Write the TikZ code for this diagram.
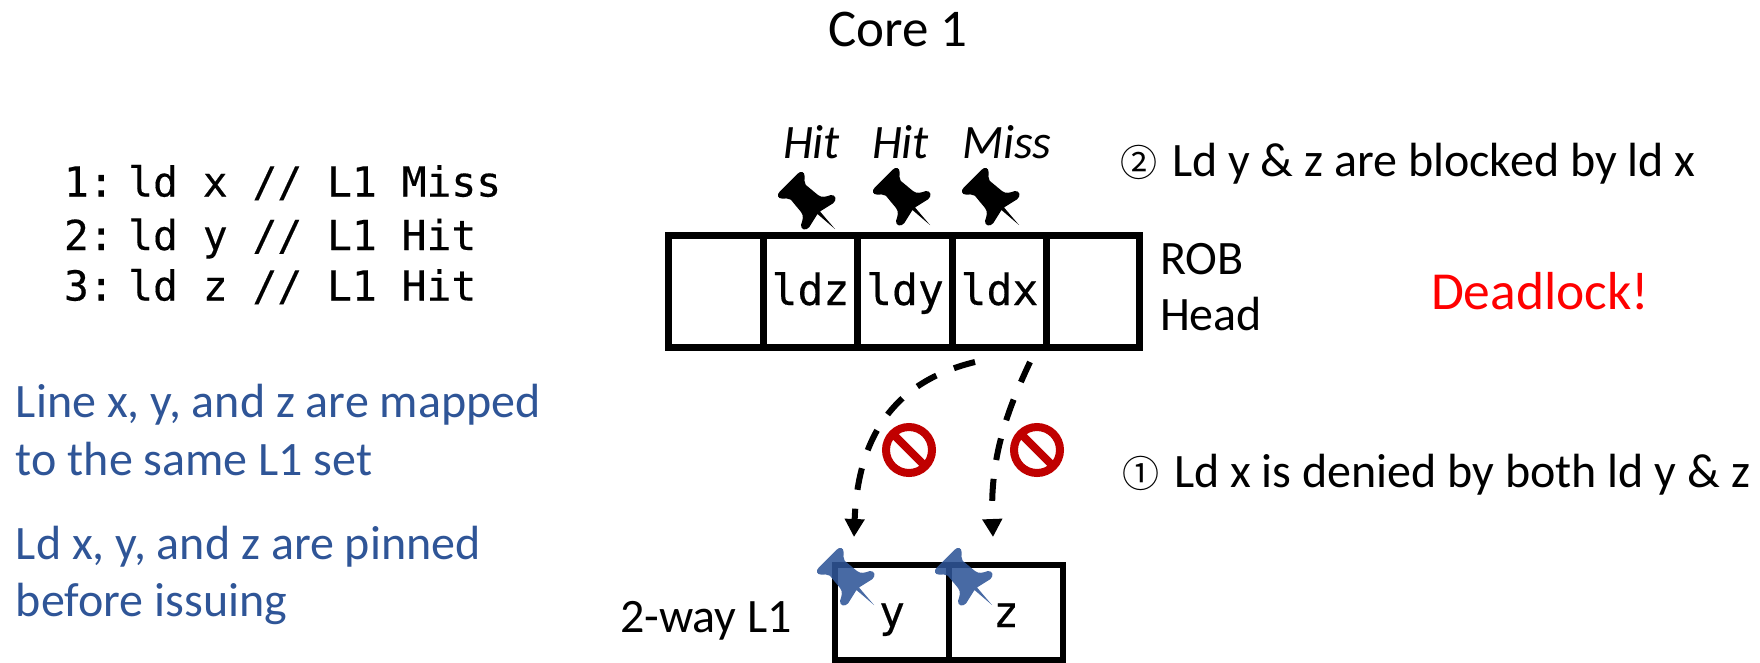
\documentclass[tikz,border=0pt]{standalone}
\usepackage{fontspec}
\usetikzlibrary{arrows.meta}
\setmainfont{Carlito}
\newfontfamily\codefont[FakeBold=0.35]{DejaVu Sans Mono}
\newfontfamily\circfont{Noto Sans CJK JP}
\definecolor{bluetext}{HTML}{2F5597}
\definecolor{stopred}{HTML}{C00000}
\tikzset{
  x=1pt,y=-1pt,
  txt/.style={anchor=base west,inner sep=0pt,outer sep=0pt,font=\fontsize{48}{56}\selectfont},
  code/.style={anchor=base west,inner sep=0pt,outer sep=0pt,font=\codefont\fontsize{41.3}{48}\selectfont},
  circ/.style={anchor=base west,inner sep=0pt,outer sep=0pt,font=\circfont\fontsize{37}{42}\selectfont},
  blue text/.style={txt,text=bluetext},
  hit/.style={txt,font=\fontsize{48}{56}\selectfont\itshape},
  cell/.style={draw,line width=7pt,minimum width=94.5pt,minimum height=112pt,inner sep=0pt,outer sep=0pt,
     text height=28pt,text depth=0pt,font=\codefont\fontsize{43}{48}\selectfont},
  cache/.style={draw,line width=6.5pt,minimum width=114pt,minimum height=95pt,inner sep=0pt,outer sep=0pt,
     text height=29pt,text depth=0pt,font=\codefont\fontsize{43}{48}\selectfont},
  deny/.style={circle,draw=stopred,line width=8pt,minimum size=46pt,inner sep=0pt,outer sep=0pt},
  denybar/.style={draw=stopred,line width=8pt},
  link/.style={line width=6pt,dash pattern=on 22pt off 19pt,-{Triangle[length=18pt,width=19pt]}},
  mypin/.pic={
    \path[pic actions] (0,0) -- (1.8,-23) -- (17,-19.5)
      .. controls (22,-19) and (25,-24) .. (21,-27)
      .. controls (17,-29) and (12.5,-31) .. (12,-36) -- (10.5,-52)
      .. controls (11,-55) and (14,-57) .. (16,-59)
      .. controls (19,-62) and (17,-65.5) .. (13,-65.5) -- (-13,-65.5)
      .. controls (-17,-65.5) and (-19,-62) .. (-16,-59)
      .. controls (-14,-57) and (-11,-55) .. (-10.5,-52) -- (-12,-36)
      .. controls (-12.5,-31) and (-17,-29) .. (-21,-27)
      .. controls (-25,-24) and (-22,-19) .. (-17,-19.5) -- (-1.8,-23) -- cycle;
  }
}
\begin{document}
\begin{tikzpicture}
\useasboundingbox (0,0) rectangle (1760,662);

\node[txt,font=\fontsize{53}{60}\selectfont] (title) at (828,46) {Core 1};

\node[code] (c1) at (64,196.5) {1:\hspace{14.5pt}ld x // L1 Miss};
\node[code] (c2) at (64,250) {2:\hspace{14.5pt}ld y // L1 Hit};
\node[code] (c3) at (64,300.5) {3:\hspace{14.5pt}ld z // L1 Hit};

\node[blue text] (b1) at (16,417) {Line x, y, and z are mapped};
\node[blue text] (b2) at (16,475) {to the same L1 set};
\node[blue text] (b3) at (16,559) {Ld x, y, and z are pinned};
\node[blue text] (b4) at (16,616) {before issuing};

\node[hit] (h1) at (783,158) {Hit};
\node[hit] (h2) at (872,158) {Hit};
\node[hit] (h3) at (962,158) {Miss};

\node[cell] (r0) at (716,291) {};
\node[cell] (ldz) at (810.5,291) {ldz};
\node[cell] (ldy) at (905,291) {ldy};
\node[cell] (ldx) at (999.5,291) {ldx};
\node[cell,minimum width=92.2pt] (r4) at (1092.9,291) {};

\node[txt] (rob) at (1160,274) {ROB};
\node[txt] (head) at (1160,330) {Head};
\node[txt,text=red,font=\fontsize{53.5}{60}\selectfont] (dl) at (1431,309) {Deadlock!};

\node[circ] (n2) at (1120,176) {②};
\node[txt] (t2) at (1172,176) {Ld y \& z are blocked by ld x};
\node[circ] (n1) at (1122,487) {①};
\node[txt] (t1) at (1174,487) {Ld x is denied by both ld y \& z};

\node[txt] (way) at (620,632) {2-way L1};
\node[cache] (cy) at (892,612.5) {y};
\node[cache] (cz) at (1006,612.5) {z};

\pic[fill=black,rotate=45] at (835,229) {mypin};
\pic[fill=black,rotate=45] at (930,225) {mypin};
\pic[fill=black,rotate=45] at (1019,225) {mypin};
\pic[fill=bluetext,fill opacity=.88,rotate=45] at (874,605) {mypin};
\pic[fill=bluetext,fill opacity=.88,rotate=45] at (992,605) {mypin};

\coordinate (s1) at (975,362);
\coordinate (e1) at (854,537);
\coordinate (s2) at (1030,362);
\coordinate (e2) at (993,537);
\draw[link] (s1) .. controls (900,380) and (858,430) .. (e1);
\draw[link] (s2) .. controls (1005,415) and (990,460) .. (e2);

\node[deny] (d1) at (909,450) {};
\draw[denybar] (d1.135) -- (d1.-45);
\node[deny] (d2) at (1037,450) {};
\draw[denybar] (d2.135) -- (d2.-45);
\end{tikzpicture}
\end{document}
